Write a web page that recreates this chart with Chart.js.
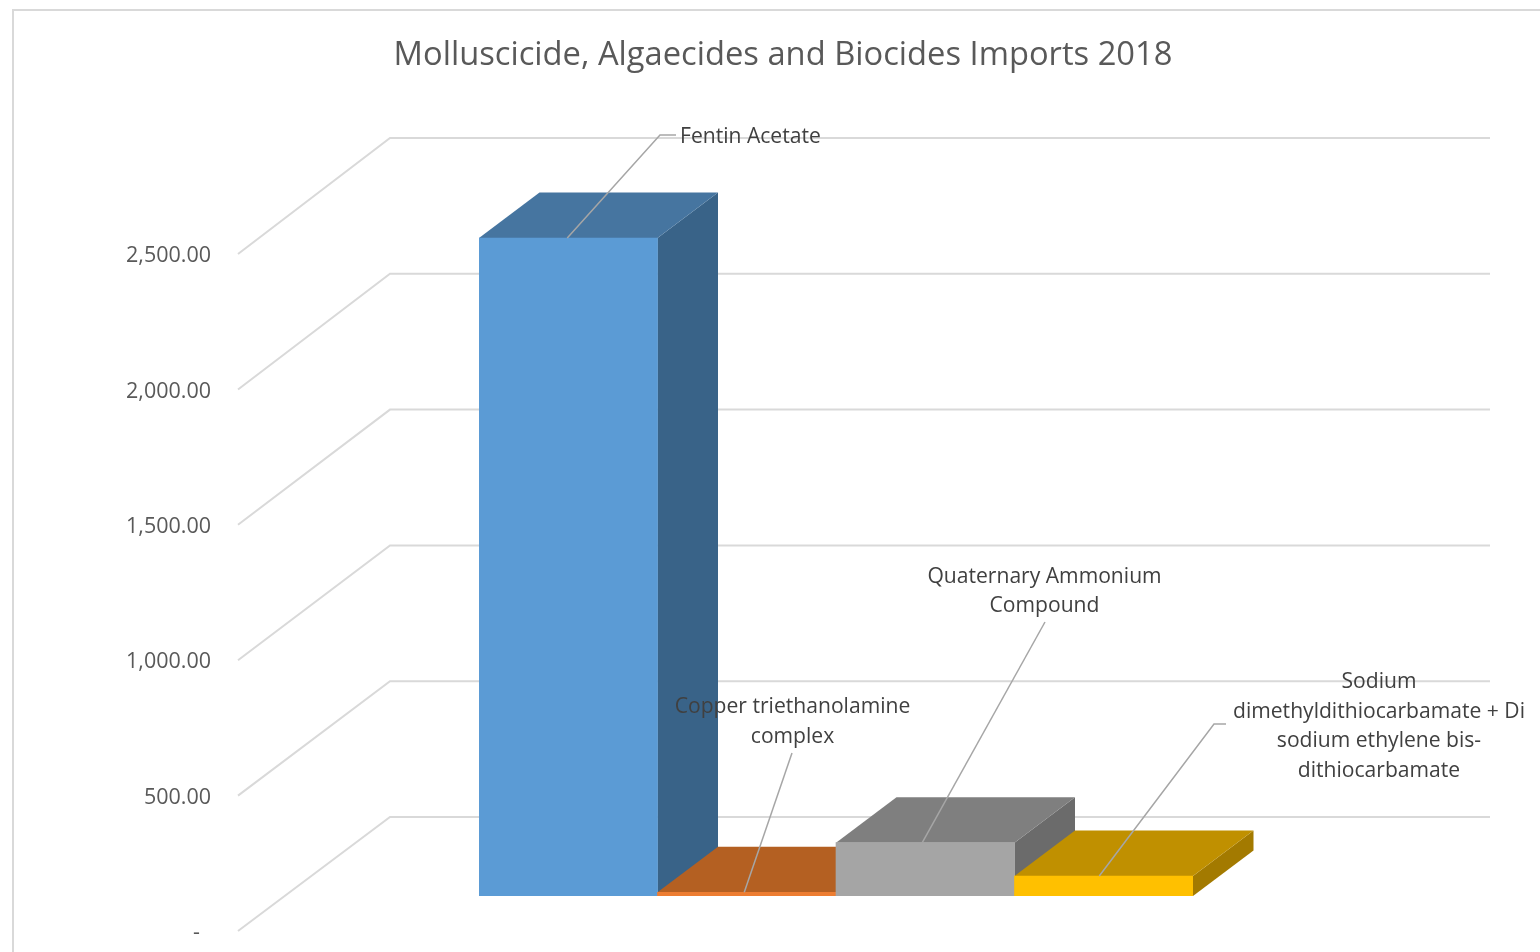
<!DOCTYPE html>
<html>
<head>
<meta charset="utf-8">
<title>Molluscicide, Algaecides and Biocides Imports 2018</title>
<script src="https://cdn.jsdelivr.net/npm/chart.js@4"></script>
<style>
  html, body { margin: 0; padding: 0; background: #fff; }
  canvas { display: block; }
</style>
</head>
<body>
<canvas id="canvas" width="1540" height="952"></canvas>
<script>
const titleText = "Molluscicide, Algaecides and Biocides Imports 2018"
const categories = [
  ["Fentin Acetate"],
  ["Copper triethanolamine", "complex"],
  ["Quaternary Ammonium", "Compound"],
  ["Sodium", "dimethyldithiocarbamate + Di", "sodium ethylene bis-", "dithiocarbamate"]
]
const imports = [2430, 14, 197, 74]
const tickStep = 500
const tickMax = 2500

const frontColors = ["#5b9bd5", "#ed7d31", "#a5a5a5", "#ffc000"]
const topColors = ["#4675a0", "#b46022", "#7f7f7f", "#c09000"]
const sideColors = ["#396388", "#99511d", "#6b6b6b", "#a37a00"]

const fontFamily = '"Open Sans", sans-serif'
const gridColor = "#d9d9d9"
const tickColor = "#595959"
const labelColor = "#404040"
const leaderColor = "#a6a6a6"

// 3d offsets, all relative to the front plane of the columns
const depth = { x: 60.5, y: -45.5 }
const wall = { left: 238, back: 390, right: 1490, frontDrop: 35, backRise: 79, backScale: 1.003 }

// where each data label sits: leader start nudge and path end, then text anchor of the first line
const labelSpots = [
  { dx: -1, path: [[660, 135], [676, 135]], x: 680, y: 137, align: "left" },
  { dx: -2.5, path: [[792, 753]], x: 792.5, y: 707, align: "center" },
  { dx: -3, path: [[1045, 622]], x: 1044.5, y: 576.5, align: "center" },
  { dx: -4.5, path: [[1214, 724], [1226, 724]], x: 1379, y: 682, align: "center" }
]
const labelLineHeight = 29.7

const depthPlugin = {
  id: "depth",
  beforeDraw(chart) {
    const ctx = chart.ctx
    ctx.save()
    ctx.strokeStyle = gridColor
    ctx.lineWidth = 2
    ctx.beginPath()
    ctx.moveTo(13, 960)
    ctx.lineTo(13, 10)
    ctx.lineTo(1550, 10)
    ctx.stroke()
    ctx.restore()
  },
  beforeDatasetsDraw(chart) {
    const ctx = chart.ctx
    const yScale = chart.scales.y
    const base = yScale.getPixelForValue(0)

    // walls: one bent line per tick, from the front floor edge to the back wall
    ctx.save()
    ctx.strokeStyle = gridColor
    ctx.lineWidth = 2
    for (const tick of yScale.ticks) {
      const y = yScale.getPixelForValue(tick.value)
      const backY = base - wall.backRise - (base - y) * wall.backScale
      ctx.beginPath()
      ctx.moveTo(wall.left, y + wall.frontDrop)
      ctx.lineTo(wall.back, backY)
      ctx.lineTo(wall.right, backY)
      ctx.stroke()
    }

    // top and side of each column, the front face is the real bar
    chart.getDatasetMeta(0).data.forEach((bar, i) => {
      const { x, y, base: barBase, width } = bar.getProps(["x", "y", "base", "width"])
      const l = x - width / 2
      const r = x + width / 2

      ctx.fillStyle = sideColors[i]
      ctx.beginPath()
      ctx.moveTo(r, y)
      ctx.lineTo(r + depth.x, y + depth.y)
      ctx.lineTo(r + depth.x, barBase + depth.y)
      ctx.lineTo(r, barBase)
      ctx.closePath()
      ctx.fill()

      ctx.fillStyle = topColors[i]
      ctx.beginPath()
      ctx.moveTo(l, y)
      ctx.lineTo(l + depth.x, y + depth.y)
      ctx.lineTo(r + depth.x, y + depth.y)
      ctx.lineTo(r, y)
      ctx.closePath()
      ctx.fill()
    })
    ctx.restore()
  },
  afterDatasetsDraw(chart) {
    const ctx = chart.ctx
    ctx.save()
    chart.getDatasetMeta(0).data.forEach((bar, i) => {
      const { x, y } = bar.getProps(["x", "y"])
      const spot = labelSpots[i]

      ctx.strokeStyle = leaderColor
      ctx.lineWidth = 1.5
      ctx.beginPath()
      ctx.moveTo(x + spot.dx, y)
      for (const [px, py] of spot.path) ctx.lineTo(px, py)
      ctx.stroke()

      ctx.fillStyle = labelColor
      ctx.font = "21.1px " + fontFamily
      ctx.textAlign = spot.align
      ctx.textBaseline = "middle"
      categories[i].forEach((line, n) => {
        ctx.fillText(line, spot.x, spot.y + n * labelLineHeight)
      })
    })
    ctx.restore()
  }
}

new Chart(document.getElementById("canvas"), {
  type: "bar",
  data: {
    labels: categories,
    datasets: [
      {
        data: imports,
        backgroundColor: frontColors,
        categoryPercentage: 1,
        barPercentage: 1
      }
    ]
  },
  options: {
    responsive: false,
    animation: false,
    layout: {
      padding: { left: 26, right: 0, top: 0, bottom: 56 }
    },
    plugins: {
      legend: { display: false },
      tooltip: { enabled: false },
      title: {
        display: true,
        text: titleText,
        color: tickColor,
        font: { family: fontFamily, size: 32.7, weight: "normal" },
        padding: { top: 36, bottom: 143.8 }
      }
    },
    scales: {
      x: { display: false },
      y: {
        min: 0,
        max: tickMax,
        grid: { display: false, drawTicks: false },
        border: { display: false },
        ticks: {
          stepSize: tickStep,
          color: tickColor,
          font: { family: fontFamily, size: 21.5 },
          padding: 268,
          labelOffset: 37,
          callback: value => value === 0
            ? "-  "
            : value.toLocaleString("en-US", { minimumFractionDigits: 2 })
        },
        afterFit(scale) {
          scale.width = 453
          // tick padding is only there to push the labels out, it must not shrink the plot
          scale.paddingTop = 0
          scale.paddingBottom = 0
        }
      },
      // empty axis, only keeps the plot short of the right edge with the title centred as in the original
      spacer: {
        position: "right",
        grid: { display: false, drawTicks: false },
        border: { display: false },
        ticks: { display: false },
        afterFit(scale) { scale.width = 347 }
      }
    }
  },
  plugins: [depthPlugin]
})
</script>
</body>
</html>
